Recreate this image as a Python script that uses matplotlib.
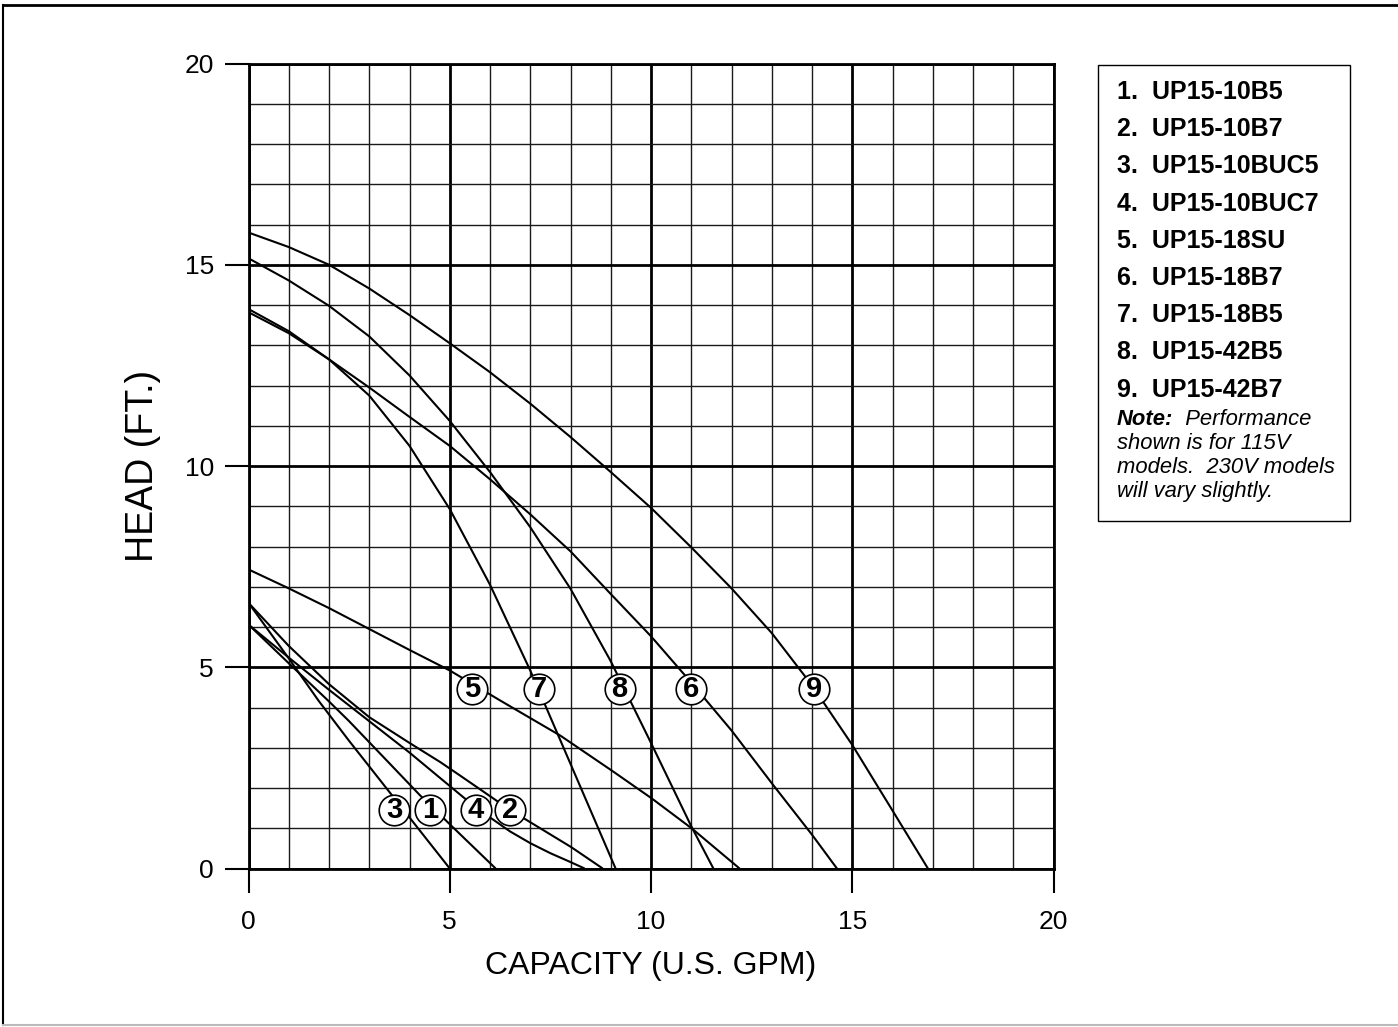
import matplotlib
matplotlib.use("Agg")
import matplotlib.pyplot as plt
from matplotlib.lines import Line2D
from matplotlib.patches import Rectangle

plt.rcParams['font.family'] = ['Liberation Sans', 'DejaVu Sans']

W, H = 1398, 1027

# ---- data ----
c1_x = [0, 1, 2, 2.5, 4.26, 5, 6.14]
c1_y = [6.06, 5.1, 4.15, 3.66, 1.82, 1.1, 0]

c2_x = [0, 1, 2, 3, 4, 4.77, 5.27, 6.49, 8.02, 8.8]
c2_y = [6.6, 5.53, 4.58, 3.76, 3.12, 2.64, 2.3, 1.46, 0.53, 0]

c3_x = [0, 1, 1.74, 2.5, 3.47, 5.0]
c3_y = [6.6, 5.22, 4.17, 3.17, 1.94, 0]

c4_x = [0, 1, 2, 3, 4, 5, 5.64, 6.5, 7, 7.5, 8, 8.35]
c4_y = [6.06, 5.24, 4.44, 3.66, 2.88, 2.05, 1.52, 0.92, 0.63, 0.38, 0.16, 0]

c5_x = [0, 1, 2, 3, 4, 5, 6.26, 7.75, 9.03, 10.02, 11.02, 12.2]
c5_y = [7.43, 6.96, 6.47, 5.95, 5.43, 4.92, 4.17, 3.3, 2.43, 1.74, 0.99, 0]

c6_x = [0, 1, 2, 3, 4, 5, 6, 7, 8, 9, 10, 11, 12, 13, 14, 14.62]
c6_y = [13.82, 13.3, 12.65, 11.95, 11.22, 10.5, 9.67, 8.8, 7.88, 6.82, 5.77, 4.62, 3.43, 2.12, 0.84, 0]

c7_x = [0, 1, 2, 3, 4, 5, 6, 7, 8, 9.12]
c7_y = [13.9, 13.35, 12.65, 11.75, 10.5, 8.93, 7.05, 4.92, 2.6, 0]

c8_x = [0, 1, 2, 3, 4, 5, 6, 7, 8, 9, 10, 11, 11.55]
c8_y = [15.16, 14.61, 13.98, 13.22, 12.25, 11.12, 9.85, 8.48, 6.95, 5.15, 3.12, 1.05, 0]

c9_x = [0, 1, 2, 3, 4, 5, 6, 7, 8, 9, 10, 11, 12, 13, 14, 15, 16, 16.88]
c9_y = [15.8, 15.44, 15.0, 14.41, 13.75, 13.05, 12.33, 11.55, 10.72, 9.85, 8.96, 7.98, 6.96, 5.85, 4.55, 3.07, 1.44, 0]

curves_x = [c1_x, c2_x, c3_x, c4_x, c5_x, c6_x, c7_x, c8_x, c9_x]
curves_y = [c1_y, c2_y, c3_y, c4_y, c5_y, c6_y, c7_y, c8_y, c9_y]

label_nums = ['3', '1', '4', '2', '5', '7', '8', '6', '9']
label_x = [3.62, 4.51, 5.64, 6.49, 5.56, 7.21, 9.22, 11.0, 14.04]
label_y = [1.46, 1.46, 1.45, 1.46, 4.45, 4.45, 4.45, 4.45, 4.45]

models = ['UP15-10B5', 'UP15-10B7', 'UP15-10BUC5', 'UP15-10BUC7', 'UP15-18SU',
          'UP15-18B7', 'UP15-18B5', 'UP15-42B5', 'UP15-42B7']
note_lines = ['shown is for 115V', 'models.  230V models', 'will vary slightly.']

x_ticks = [0, 5, 10, 15, 20]
y_ticks = [0, 5, 10, 15, 20]

# ---- figure ----
fig = plt.figure(figsize=(W / 100, H / 100), dpi=100)
ax = fig.add_axes([248.5 / W, 1 - 868.5 / H, 805 / W, 805 / H])
ax.set_xlim(0, 20)
ax.set_ylim(0, 20)

ax.set_xticks(x_ticks)
ax.set_yticks(y_ticks)
ax.set_xticks(range(0, 21), minor=True)
ax.set_yticks(range(0, 21), minor=True)
ax.grid(which='minor', color='#1a1a1a', lw=1.0, zorder=1)
ax.grid(which='major', color='black', lw=2.0, zorder=1)
ax.set_axisbelow(True)
ax.tick_params(which='minor', length=0)
ax.tick_params(which='major', length=17, width=1.5, labelsize=19, color='black')
ax.tick_params(axis='x', pad=13)
ax.tick_params(axis='y', pad=8)
for s in ax.spines.values():
    s.set_linewidth(2.0)

for cx, cy in zip(curves_x, curves_y):
    ax.plot(cx, cy, color='black', lw=1.5, zorder=3, solid_capstyle='butt',
            solid_joinstyle='round')

for n, lx, ly in zip(label_nums, label_x, label_y):
    ax.plot([lx], [ly], marker='o', ms=22, mfc='white', mec='black', mew=1.2, zorder=4)
    ax.text(lx, ly, n, ha='center', va='center', fontsize=21, fontweight='bold', zorder=5)

# axis titles
fig.text(651 / W, 1 - 966 / H, 'CAPACITY (U.S. GPM)', ha='center', va='center', fontsize=23)
fig.text(143 / W, 1 - 466 / H, 'HEAD (FT.)', ha='center', va='center', fontsize=27, rotation=90)

# legend box
fig.patches.append(Rectangle((1098 / W, 1 - 521 / H), 252 / W, 456 / H,
                             transform=fig.transFigure, fill=False, ec='black', lw=1.0))
for i, m in enumerate(models):
    yb = 99 + 37.2 * i
    fig.text(1117 / W, 1 - yb / H, f'{i + 1}.  {m}', ha='left', va='baseline',
             fontsize=18, fontweight='bold')

t_note = fig.text(1117 / W, 1 - 425 / H, 'Note:', ha='left', va='baseline',
                  fontsize=15.8, fontweight='bold', style='italic')
fig.canvas.draw()
bb = t_note.get_window_extent(renderer=fig.canvas.get_renderer())
fig.text(bb.x1 / W, 1 - 425 / H, '  Performance', ha='left', va='baseline',
         fontsize=15.8, style='italic')
for j, nl in enumerate(note_lines):
    fig.text(1117 / W, 1 - (449 + 24 * j) / H, nl, ha='left', va='baseline',
             fontsize=15.8, style='italic')

# outer frame
fig.lines.append(Line2D([3 / W, 1], [1 - 5 / H, 1 - 5 / H], transform=fig.transFigure, color='black', lw=2))
fig.lines.append(Line2D([3 / W, 3 / W], [1 - 5 / H, 1 - 1025 / H], transform=fig.transFigure, color='black', lw=1.5))
fig.lines.append(Line2D([3 / W, 1], [1 - 1025 / H, 1 - 1025 / H], transform=fig.transFigure, color='#bbbbbb', lw=1.5))

fig.savefig('out.png', dpi=100)
